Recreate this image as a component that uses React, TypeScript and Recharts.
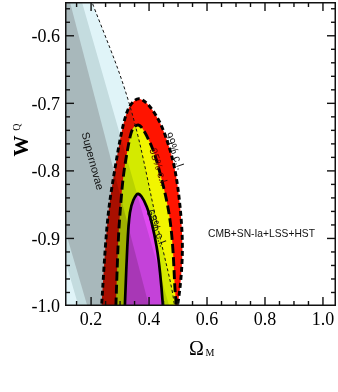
import React from 'react';
import { ScatterChart, Scatter, XAxis, YAxis, Curve } from 'recharts';

const X_DOMAIN: [number, number] = [0.11, 1.045];
const Y_DOMAIN: [number, number] = [-1.0, -0.55];

// axis ticks
const xMajor = [0.2, 0.4, 0.6, 0.8, 1.0];
const xTicks = [0.15, 0.2, 0.25, 0.3, 0.35, 0.4, 0.45, 0.5, 0.55, 0.6, 0.65, 0.7, 0.75, 0.8, 0.85, 0.9, 0.95, 1.0];
const yMajor = [-1.0, -0.9, -0.8, -0.7, -0.6];
const yTicks = [-1.0, -0.98, -0.96, -0.94, -0.92, -0.9, -0.88, -0.86, -0.84, -0.82, -0.8, -0.78, -0.76, -0.74, -0.72, -0.7, -0.68, -0.66, -0.64, -0.62, -0.6, -0.58, -0.56];

// combined likelihood contours, traced from bottom-left round to bottom-right
const cl99Om = [0.232, 0.237, 0.254, 0.276, 0.300, 0.323, 0.345, 0.369, 0.403, 0.438, 0.465, 0.489, 0.507, 0.515, 0.507, 0.500, 0.494];
const cl99W = [-1.02, -0.995, -0.887, -0.813, -0.754, -0.714, -0.698, -0.6935, -0.705, -0.729, -0.759, -0.798, -0.853, -0.917, -0.972, -0.995, -1.02];
const cl95Om = [0.284, 0.286, 0.293, 0.300, 0.310, 0.324, 0.338, 0.351, 0.363, 0.380, 0.409, 0.432, 0.455, 0.472, 0.483, 0.489, 0.493, 0.494];
const cl95W = [-1.02, -0.995, -0.912, -0.862, -0.813, -0.773, -0.744, -0.734, -0.732, -0.739, -0.764, -0.794, -0.833, -0.872, -0.921, -0.972, -0.995, -1.02];
const cl68Om = [0.315, 0.317, 0.325, 0.334, 0.346, 0.357, 0.363, 0.374, 0.392, 0.409, 0.426, 0.438, 0.447, 0.450];
const cl68W = [-1.02, -0.995, -0.912, -0.862, -0.843, -0.835, -0.834, -0.838, -0.853, -0.877, -0.912, -0.951, -0.995, -1.02];

// supernovae bands (99%, 95%, 68%) as polygons
const sn99Om = [0.0, -0.3, 0.189, 0.203, 0.265, 0.317, 0.365, 0.410, 0.448, 0.479, 0.493];
const sn99W = [-1.02, -0.53, -0.53, -0.55, -0.618, -0.680, -0.754, -0.843, -0.917, -0.976, -1.02];
const sn95Om = [0.170, -0.162, 0.155, 0.483];
const sn95W = [-1.02, -0.53, -0.53, -1.02];
const sn68Om = [0.2007, -0.134, 0.115, 0.412];
const sn68W = [-1.02, -0.53, -0.53, -1.02];
// dashed 99% supernova edge, drawn across the contours too
const snEdgeOm = [0.189, 0.203, 0.265, 0.317, 0.365, 0.410, 0.448, 0.479, 0.493];
const snEdgeW = [-0.53, -0.55, -0.618, -0.680, -0.754, -0.843, -0.917, -0.976, -1.02];

const pts = (xs: number[], ys: number[]) => xs.map((x, i) => ({ x, y: ys[i] }));
const noDot = () => <g />;

const region = (type: 'natural' | 'linear', fill: string, stroke = 'none', width = 0, dash?: string) => (p: any) => (
  <Curve points={p.points} type={type} fill={fill} stroke={stroke} strokeWidth={width} strokeDasharray={dash} />
);

const tickMark = (dx: number, dy: number) => (p: any) => {
  const len = p.payload.major ? 9 : 5;
  return <line x1={p.cx} y1={p.cy} x2={p.cx + dx * len} y2={p.cy + dy * len} stroke="#111" strokeWidth={1.4} />;
};

const bottomTicks = xTicks.map((x) => ({ x, y: Y_DOMAIN[0], major: xMajor.includes(x) }));
const topTicks = xTicks.map((x) => ({ x, y: Y_DOMAIN[1], major: xMajor.includes(x) }));
const leftTicks = yTicks.map((y) => ({ x: X_DOMAIN[0], y, major: yMajor.includes(y) }));
const rightTicks = yTicks.map((y) => ({ x: X_DOMAIN[1], y, major: yMajor.includes(y) }));
const frame = [
  { x: X_DOMAIN[0], y: Y_DOMAIN[0] },
  { x: X_DOMAIN[1], y: Y_DOMAIN[0] },
  { x: X_DOMAIN[1], y: Y_DOMAIN[1] },
  { x: X_DOMAIN[0], y: Y_DOMAIN[1] },
];

const serif = '"Liberation Serif", "Times New Roman", serif';
const sans = '"Liberation Sans", Arial, sans-serif';
const tickStyle = { fill: '#000', fontSize: 18, fontFamily: serif };

export default function App() {
  return (
    <div style={{ position: 'absolute', left: 0, top: 0, width: 338, height: 392, background: '#fff' }}>
      <style>{'.sn { mix-blend-mode: multiply; }'}</style>
      <ScatterChart width={338} height={392} margin={{ top: 2, right: 2, bottom: 46, left: 0 }}>
        <XAxis
          type="number"
          dataKey="x"
          domain={X_DOMAIN}
          allowDataOverflow
          ticks={xMajor}
          interval={0}
          tickFormatter={(v: number) => v.toFixed(1)}
          tick={tickStyle}
          tickLine={false}
          axisLine={false}
          tickSize={0}
          tickMargin={6}
          height={40}
        />
        <YAxis
          type="number"
          dataKey="y"
          domain={Y_DOMAIN}
          allowDataOverflow
          ticks={yMajor}
          interval={0}
          tickFormatter={(v: number) => v.toFixed(1)}
          tick={tickStyle}
          tickLine={false}
          axisLine={false}
          tickSize={0}
          tickMargin={5}
          width={65}
        />
        <Scatter data={pts(cl99Om, cl99W)} shape={noDot} line={region('natural', '#ff1400', '#000', 2.9, '5 3')} isAnimationActive={false} />
        <Scatter data={pts(cl95Om, cl95W)} shape={noDot} line={region('natural', '#f2f500', '#000', 2.9, '9 4')} isAnimationActive={false} />
        <Scatter data={pts(cl68Om, cl68W)} shape={noDot} line={region('natural', '#ff4cf8', '#000', 2.7)} isAnimationActive={false} />
        <Scatter className="sn" data={pts(sn99Om, sn99W)} shape={noDot} line={region('linear', '#e0f4f8')} isAnimationActive={false} />
        <Scatter className="sn" data={pts(sn95Om, sn95W)} shape={noDot} line={region('linear', '#dfe6e6')} isAnimationActive={false} />
        <Scatter className="sn" data={pts(sn68Om, sn68W)} shape={noDot} line={region('linear', '#dbd5d6')} isAnimationActive={false} />
        <Scatter data={pts(snEdgeOm, snEdgeW)} shape={noDot} line={region('natural', 'none', '#111', 1, '3 2.5')} isAnimationActive={false} />
        <Scatter data={bottomTicks} shape={tickMark(0, -1)} isAnimationActive={false} />
        <Scatter data={topTicks} shape={tickMark(0, 1)} isAnimationActive={false} />
        <Scatter data={leftTicks} shape={tickMark(1, 0)} isAnimationActive={false} />
        <Scatter data={rightTicks} shape={tickMark(-1, 0)} isAnimationActive={false} />
        <Scatter data={frame} shape={noDot} line={(p: any) => <Curve points={p.points} type="linearClosed" fill="none" stroke="#111" strokeWidth={3} />} isAnimationActive={false} />
      </ScatterChart>
      <svg width={338} height={392} style={{ position: 'absolute', left: 0, top: 0, pointerEvents: 'none' }}>
        <text x={28} y={146} transform="rotate(-90 28 146)" textAnchor="middle" fontFamily={serif} fontWeight="bold" fontSize={21}>W</text>
        <text x={20} y={127} transform="rotate(-90 20 127)" textAnchor="middle" fontFamily={serif} fontSize={10}>Q</text>
        <text x={196.5} y={355} textAnchor="middle" fontFamily={serif} fontSize={20}>Ω</text>
        <text x={205.5} y={356} fontFamily={serif} fontSize={10}>M</text>
        <text x={93} y={161} transform="rotate(75 93 161)" textAnchor="middle" dominantBaseline="central" fontFamily={sans} fontSize={11} fill="#111">Supernovae</text>
        <text x={175} y={151} transform="rotate(70 175 151)" textAnchor="middle" dominantBaseline="central" fontFamily={sans} fontSize={11} fill="#111">99% c.l.</text>
        <text x={159} y={167} transform="rotate(72 159 167)" textAnchor="middle" dominantBaseline="central" fontFamily={sans} fontSize={11} fill="#5a0000">95% c.l.</text>
        <text x={157} y={228} transform="rotate(69 157 228)" textAnchor="middle" dominantBaseline="central" fontFamily={sans} fontSize={11} fill="#111">68% c.l.</text>
        <text x={208} y={237} fontFamily={sans} fontSize={10.5} textLength={107} lengthAdjust="spacingAndGlyphs" fill="#111">CMB+SN-Ia+LSS+HST</text>
      </svg>
    </div>
  );
}
